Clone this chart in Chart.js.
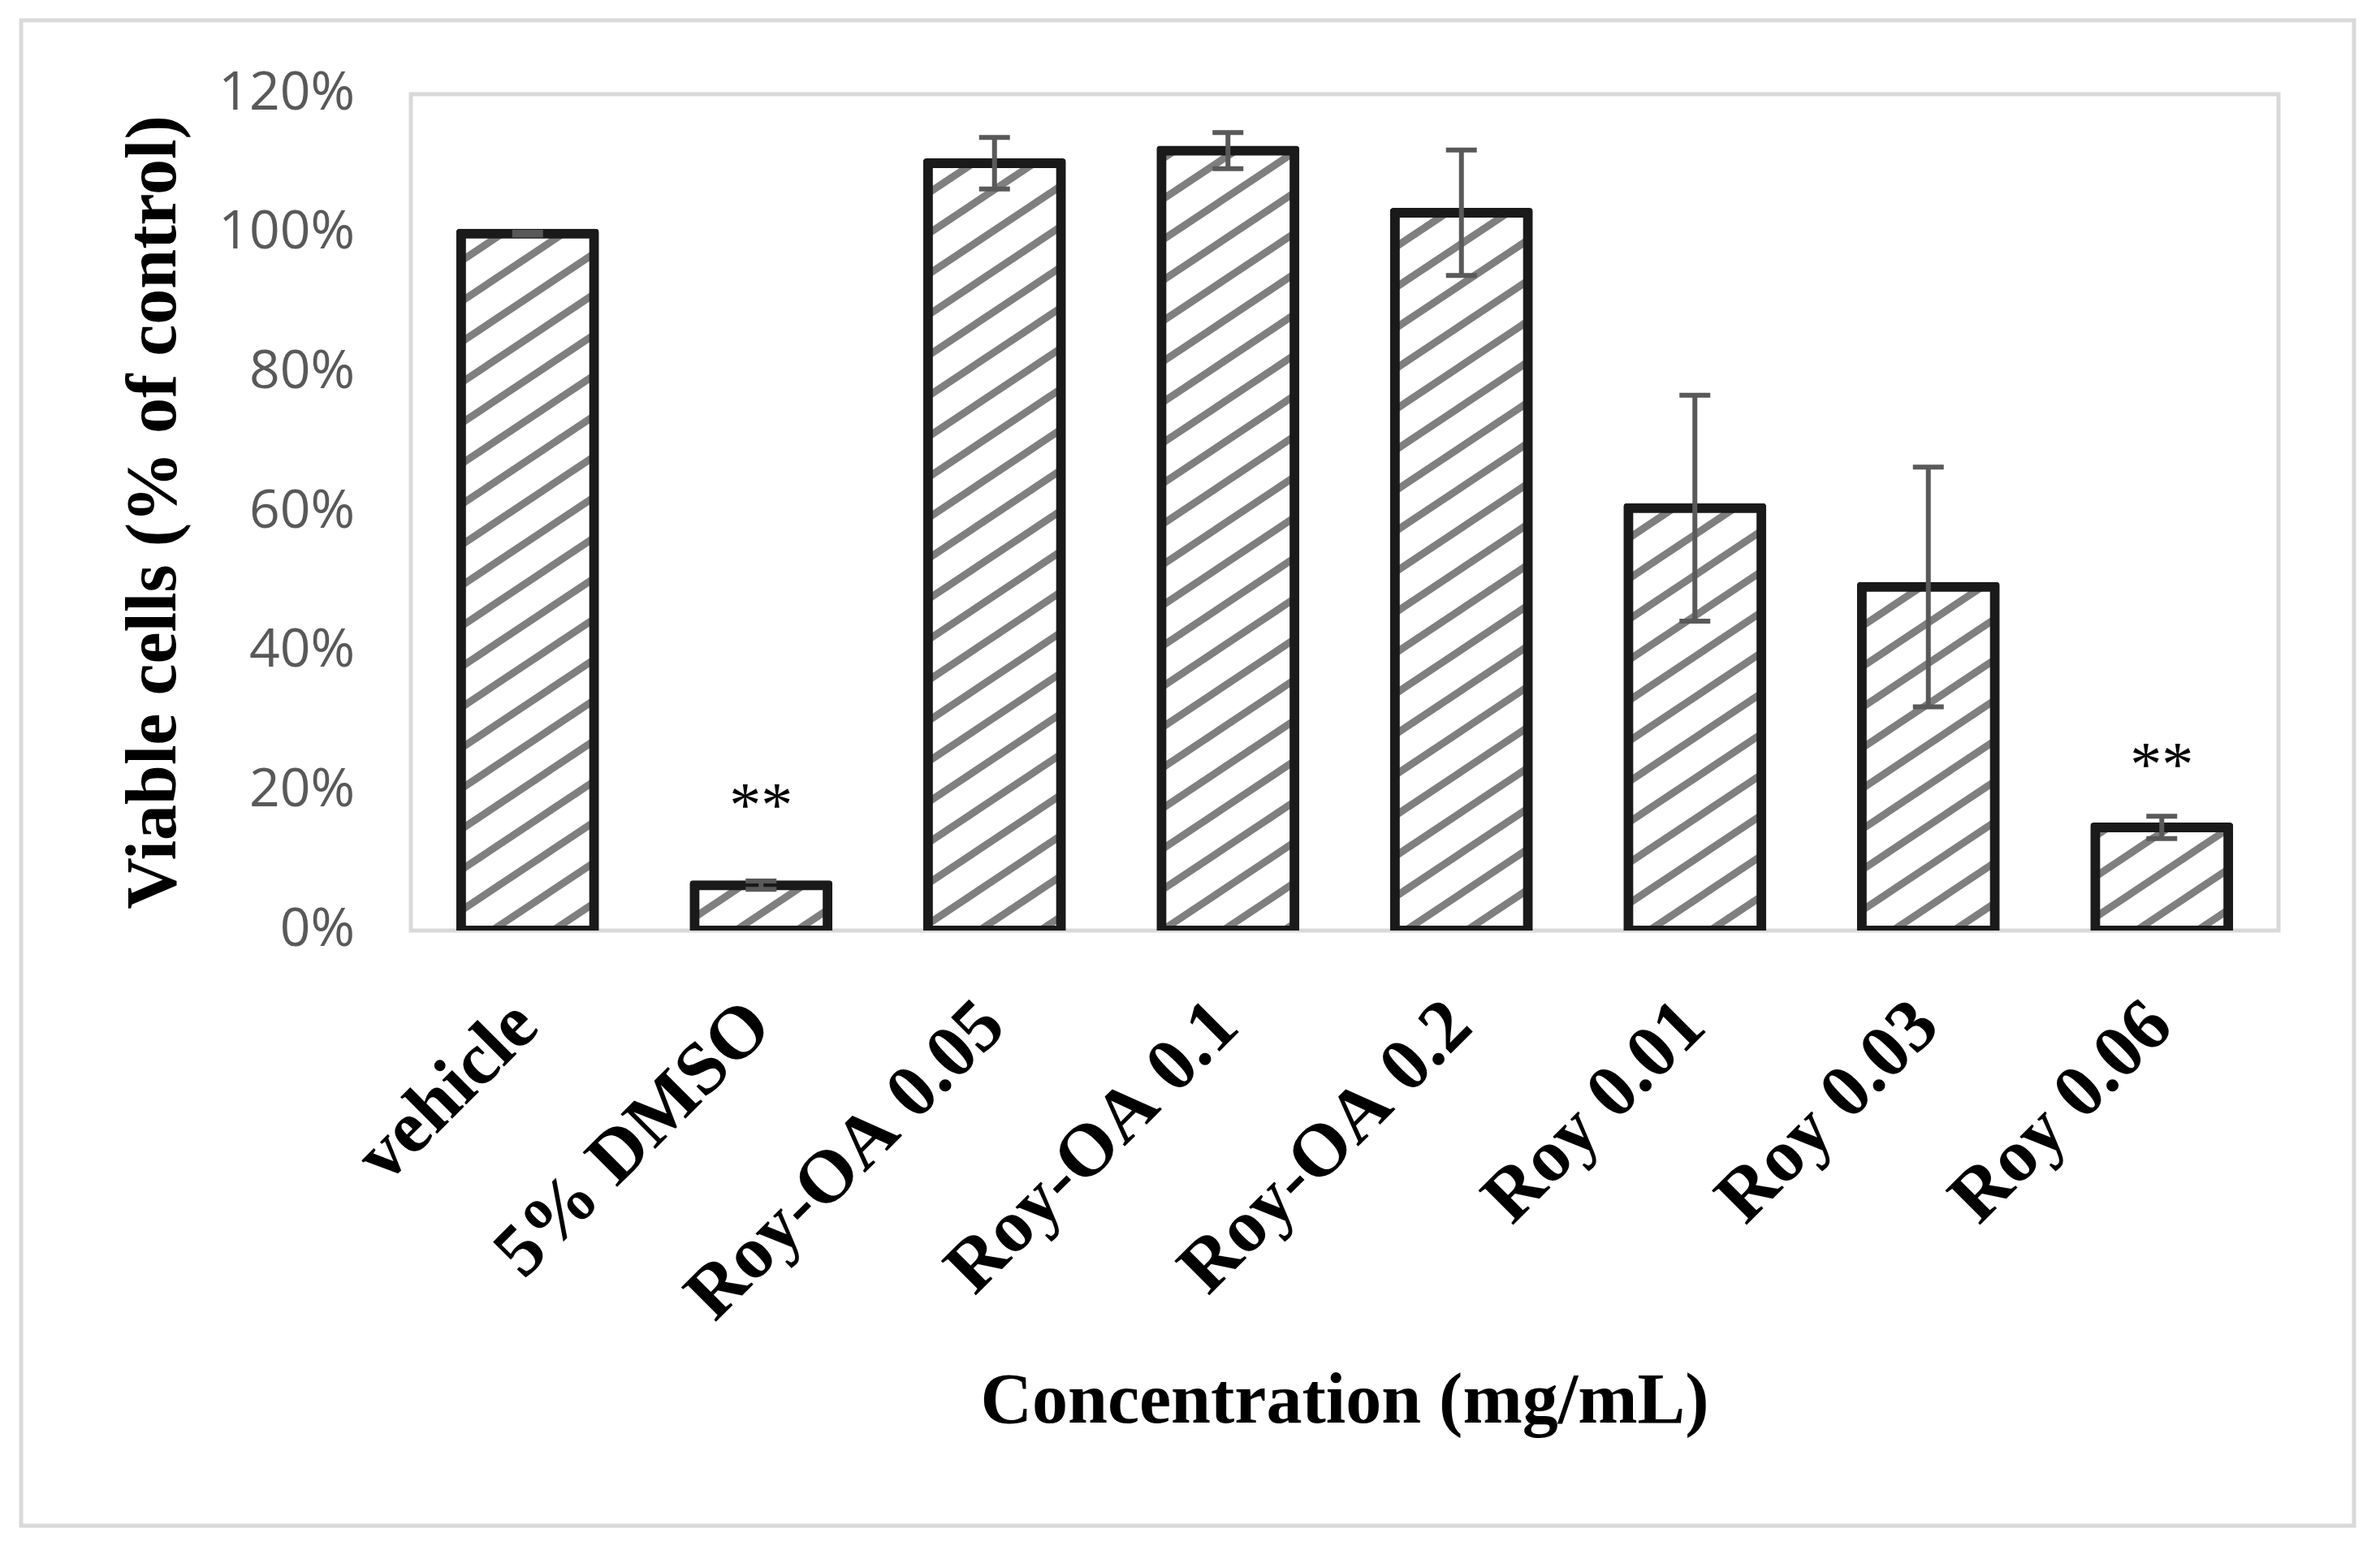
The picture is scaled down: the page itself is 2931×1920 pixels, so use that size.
<!DOCTYPE html>
<html>
<head>
<meta charset="utf-8">
<script src="https://cdn.jsdelivr.net/npm/chart.js@4.4.0/dist/chart.umd.min.js"></script>
<style>
  html, body { margin: 0; padding: 0; background: #fff; }
  canvas { display: block; }
</style>
</head>
<body>
<canvas id="myChart" width="2931" height="1920"></canvas>
<script>
// valeurs
var categories = ['vehicle', '5% DMSO', 'Roy-OA 0.05', 'Roy-OA 0.1', 'Roy-OA 0.2', 'Roy 0.01', 'Roy 0.03', 'Roy 0.06'];
var viable = [100, 6.5, 110.1, 111.9, 103, 60.6, 49.3, 14.8];
var errors = [0.2, 0.6, 3.7, 2.6, 9.0, 16.2, 17.2, 1.6];
var signif = ['', '**', '', '', '', '', '', '**'];
var signifLevel = [null, 19.2, null, null, null, null, null, 25];
var yTicks = [0, 20, 40, 60, 80, 100, 120];

// motif hachuré (diagonales grises)
function makeHatch() {
    var w = 75, h = 50;
    var c = document.createElement('canvas');
    c.width = w; c.height = h;
    var g = c.getContext('2d');
    g.fillStyle = '#ffffff';
    g.fillRect(0, 0, w, h);
    g.strokeStyle = '#7f7f7f';
    g.lineWidth = 9;
    for (var n = -1; n <= 1; n++) {
        g.beginPath();
        g.moveTo(-10, h + n * h + 10 * h / w);
        g.lineTo(w + 10, n * h - 10 * h / w);
        g.stroke();
    }
    return g.createPattern(c, 'repeat');
}

var framePlugin = {
    id: 'frame',
    beforeDraw: function(chart) {
        var ctx = chart.ctx;
        ctx.save();
        ctx.fillStyle = '#ffffff';
        ctx.fillRect(0, 0, chart.width, chart.height);
        ctx.strokeStyle = '#d9d9d9';
        ctx.lineWidth = 5;
        ctx.strokeRect(26, 25, 2873, 1854);
        ctx.restore();
    },
    beforeDatasetsDraw: function(chart) {
        var a = chart.chartArea, ctx = chart.ctx;
        ctx.save();
        ctx.strokeStyle = '#d9d9d9';
        ctx.lineWidth = 5;
        ctx.strokeRect(a.left, a.top, a.right - a.left, a.bottom - a.top);
        ctx.restore();
    }
};

var errorPlugin = {
    id: 'errorBars',
    afterDatasetsDraw: function(chart) {
        var ctx = chart.ctx, y = chart.scales.y;
        var meta = chart.getDatasetMeta(0);
        ctx.save();
        ctx.strokeStyle = '#595959';
        ctx.lineWidth = 6;
        for (var i = 0; i < viable.length; i++) {
            var x = meta.data[i].x;
            var top = y.getPixelForValue(viable[i] + errors[i]);
            var bot = y.getPixelForValue(viable[i] - errors[i]);
            ctx.beginPath();
            ctx.moveTo(x, top); ctx.lineTo(x, bot);
            ctx.moveTo(x - 19, top); ctx.lineTo(x + 19, top);
            ctx.moveTo(x - 19, bot); ctx.lineTo(x + 19, bot);
            ctx.stroke();
        }
        // étoiles de significativité
        ctx.fillStyle = '#000';
        ctx.font = '78px "Liberation Serif"';
        ctx.textAlign = 'center';
        ctx.textBaseline = 'alphabetic';
        for (var j = 0; j < signif.length; j++) {
            if (!signif[j]) continue;
            ctx.fillText(signif[j], meta.data[j].x, y.getPixelForValue(signifLevel[j]) + 36);
        }
        ctx.restore();
    }
};

var ctx = document.getElementById('myChart').getContext('2d');
var myChart = new Chart(ctx, {
    type: 'bar',
    data: {
        labels: categories,
        datasets: [{
            data: viable,
            backgroundColor: makeHatch(),
            borderColor: '#1a1a1a',
            borderWidth: 12,
            borderSkipped: false,
            borderRadius: 4,
            inflateAmount: 6,
            barPercentage: 0.57,
            categoryPercentage: 1
        }]
    },
    options: {
        responsive: false,
        animation: false,
        devicePixelRatio: 1,
        layout: { padding: { left: 140, top: 116, right: 125, bottom: 138 } },
        plugins: { legend: { display: false }, tooltip: { enabled: false } },
        scales: {
            x: {
                grid: { display: false },
                border: { display: false },
                ticks: {
                    autoSkip: false,
                    minRotation: 45,
                    maxRotation: 45,
                    padding: 58,
                    color: '#000',
                    font: { family: 'Liberation Serif', weight: 'bold', size: 92 }
                },
                title: {
                    display: true,
                    text: 'Concentration (mg/mL)',
                    color: '#000',
                    padding: 0,
                    font: { family: 'Liberation Serif', weight: 'bold', size: 88 }
                },
                afterFit: function(s) { s.height = 636; s.paddingLeft = 0; s.paddingRight = 0; }
            },
            y: {
                min: 0,
                max: 120,
                grid: { display: false },
                border: { display: false },
                afterBuildTicks: function(s) { s.ticks = yTicks.map(function(v) { return { value: v }; }); },
                ticks: {
                    padding: 61,
                    color: '#595959',
                    font: { family: 'Open Sans', size: 66 },
                    callback: function(v) { return v + '%'; }
                },
                title: {
                    display: true,
                    text: 'Viable cells (% of control)',
                    color: '#000',
                    padding: 0,
                    font: { family: 'Liberation Serif', weight: 'bold', size: 88 }
                },
                afterFit: function(s) { s.width = 366; }
            }
        }
    },
    plugins: [framePlugin, errorPlugin]
});
</script>
</body>
</html>
